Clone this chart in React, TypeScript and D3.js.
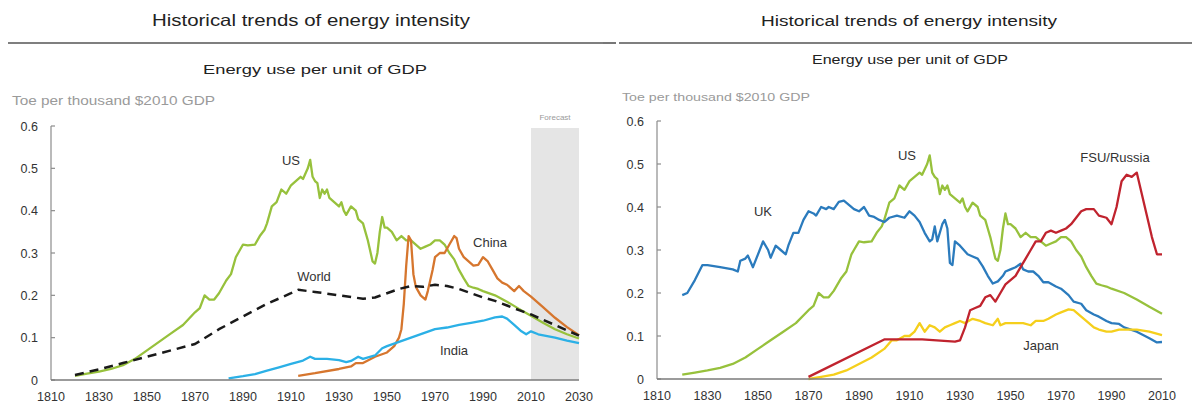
import React from "react";
import * as d3 from "d3";

type P = [number, number];

const yTicks = [0, 0.1, 0.2, 0.3, 0.4, 0.5, 0.6];
const xTicksLeft = [1810, 1830, 1850, 1870, 1890, 1910, 1930, 1950, 1970, 1990, 2010, 2030];
const xTicksRight = [1810, 1830, 1850, 1870, 1890, 1910, 1930, 1950, 1970, 1990, 2010];

const usData: P[] = [
  [1820, 0.01], [1825, 0.015], [1830, 0.02], [1835, 0.026], [1840, 0.035], [1845, 0.05], [1850, 0.07],
  [1855, 0.09], [1860, 0.11], [1865, 0.13], [1870, 0.16], [1872, 0.17], [1874, 0.2], [1876, 0.19],
  [1878, 0.19], [1880, 0.205], [1883, 0.235], [1885, 0.25], [1887, 0.29], [1888, 0.3], [1890, 0.32],
  [1892, 0.318], [1895, 0.32], [1897, 0.34], [1899, 0.355], [1900, 0.37], [1902, 0.41], [1904, 0.42],
  [1906, 0.45], [1908, 0.44], [1910, 0.46], [1912, 0.47], [1914, 0.48], [1915, 0.475], [1917, 0.5],
  [1918, 0.52], [1919, 0.48], [1920, 0.47], [1921, 0.465], [1922, 0.43], [1923, 0.45], [1924, 0.44],
  [1925, 0.45], [1926, 0.43], [1928, 0.42], [1930, 0.41], [1931, 0.42], [1932, 0.4], [1933, 0.39],
  [1935, 0.41], [1937, 0.4], [1938, 0.38], [1940, 0.37], [1941, 0.35], [1942, 0.33], [1944, 0.28],
  [1945, 0.275], [1946, 0.3], [1947, 0.35], [1948, 0.385], [1949, 0.36], [1950, 0.36], [1952, 0.35],
  [1954, 0.33], [1956, 0.34], [1958, 0.33], [1960, 0.33], [1962, 0.32], [1964, 0.31], [1966, 0.315],
  [1968, 0.32], [1970, 0.33], [1972, 0.33], [1974, 0.32], [1976, 0.3], [1978, 0.285], [1980, 0.26],
  [1982, 0.24], [1984, 0.222], [1986, 0.218], [1988, 0.215], [1990, 0.21], [1995, 0.2], [2000, 0.185],
  [2005, 0.168], [2010, 0.152], [2015, 0.135], [2020, 0.12], [2025, 0.108], [2030, 0.098],
];

const worldData: P[] = [
  [1820, 0.012], [1830, 0.025], [1840, 0.04], [1850, 0.055], [1860, 0.07], [1870, 0.085], [1880, 0.12],
  [1890, 0.15], [1900, 0.18], [1910, 0.205], [1913, 0.213], [1920, 0.208], [1930, 0.2], [1940, 0.192],
  [1945, 0.195], [1950, 0.205], [1955, 0.215], [1960, 0.222], [1965, 0.22], [1970, 0.225], [1975, 0.222],
  [1980, 0.215], [1985, 0.205], [1990, 0.195], [1995, 0.187], [2000, 0.176], [2005, 0.165], [2010, 0.155],
  [2015, 0.142], [2020, 0.13], [2025, 0.117], [2030, 0.105],
];

const chinaData: P[] = [
  [1913, 0.01], [1920, 0.016], [1930, 0.026], [1935, 0.032], [1937, 0.04], [1940, 0.04], [1945, 0.055],
  [1950, 0.065], [1953, 0.08], [1955, 0.1], [1956, 0.12], [1957, 0.18], [1958, 0.27], [1959, 0.34],
  [1960, 0.33], [1961, 0.25], [1962, 0.22], [1964, 0.2], [1966, 0.19], [1967, 0.21], [1969, 0.26],
  [1970, 0.29], [1972, 0.3], [1974, 0.3], [1976, 0.32], [1978, 0.34], [1979, 0.335], [1980, 0.31],
  [1982, 0.29], [1984, 0.28], [1986, 0.27], [1988, 0.272], [1990, 0.29], [1992, 0.28], [1994, 0.26],
  [1996, 0.24], [1998, 0.23], [2000, 0.225], [2003, 0.21], [2005, 0.222], [2007, 0.21], [2010, 0.197],
  [2015, 0.172], [2020, 0.147], [2025, 0.125], [2030, 0.106],
];

const indiaData: P[] = [
  [1884, 0.004], [1890, 0.009], [1895, 0.014], [1900, 0.022], [1905, 0.03], [1910, 0.038], [1915, 0.046],
  [1918, 0.055], [1920, 0.05], [1925, 0.05], [1930, 0.047], [1933, 0.042], [1935, 0.045], [1938, 0.055],
  [1940, 0.05], [1945, 0.058], [1948, 0.075], [1950, 0.08], [1955, 0.09], [1960, 0.1], [1965, 0.11],
  [1970, 0.12], [1975, 0.124], [1980, 0.13], [1985, 0.135], [1990, 0.14], [1995, 0.148], [1998, 0.15],
  [2000, 0.145], [2003, 0.13], [2006, 0.115], [2008, 0.108], [2010, 0.115], [2013, 0.108], [2020, 0.1],
  [2025, 0.093], [2030, 0.087],
];

const ukData: P[] = [
  [1820, 0.195], [1822, 0.2], [1825, 0.23], [1828, 0.265], [1830, 0.265], [1835, 0.26], [1840, 0.255],
  [1842, 0.25], [1843, 0.275], [1845, 0.28], [1846, 0.287], [1848, 0.26], [1850, 0.29], [1852, 0.32],
  [1854, 0.3], [1855, 0.282], [1857, 0.31], [1859, 0.3], [1861, 0.29], [1862, 0.31], [1864, 0.34],
  [1866, 0.34], [1868, 0.37], [1870, 0.39], [1872, 0.385], [1873, 0.38], [1875, 0.4], [1877, 0.395],
  [1878, 0.4], [1880, 0.395], [1882, 0.412], [1884, 0.415], [1886, 0.405], [1888, 0.395], [1890, 0.39],
  [1892, 0.4], [1894, 0.38], [1896, 0.377], [1898, 0.37], [1900, 0.365], [1902, 0.375], [1905, 0.38],
  [1908, 0.375], [1910, 0.39], [1912, 0.38], [1914, 0.365], [1916, 0.34], [1918, 0.32], [1919, 0.325],
  [1920, 0.355], [1921, 0.32], [1923, 0.36], [1924, 0.37], [1925, 0.35], [1926, 0.27], [1927, 0.265],
  [1928, 0.32], [1930, 0.31], [1933, 0.29], [1935, 0.285], [1937, 0.28], [1939, 0.262], [1941, 0.24],
  [1943, 0.222], [1945, 0.227], [1947, 0.24], [1948, 0.25], [1950, 0.255], [1952, 0.26], [1954, 0.268],
  [1955, 0.255], [1957, 0.25], [1959, 0.25], [1961, 0.24], [1963, 0.225], [1965, 0.225], [1968, 0.215],
  [1970, 0.21], [1973, 0.195], [1975, 0.18], [1978, 0.175], [1980, 0.16], [1983, 0.15], [1985, 0.145],
  [1988, 0.135], [1990, 0.13], [1993, 0.128], [1995, 0.12], [2000, 0.11], [2005, 0.095], [2008, 0.085],
  [2010, 0.086],
];

const fsuData: P[] = [
  [1870, 0.005], [1900, 0.092], [1915, 0.092], [1928, 0.087], [1930, 0.09], [1932, 0.12], [1934, 0.16],
  [1936, 0.165], [1938, 0.17], [1940, 0.19], [1942, 0.195], [1944, 0.18], [1946, 0.2], [1948, 0.22],
  [1950, 0.23], [1952, 0.24], [1954, 0.26], [1956, 0.28], [1958, 0.3], [1960, 0.32], [1962, 0.32],
  [1964, 0.34], [1966, 0.345], [1968, 0.34], [1970, 0.345], [1972, 0.35], [1974, 0.36], [1976, 0.375],
  [1978, 0.39], [1980, 0.395], [1983, 0.395], [1985, 0.38], [1988, 0.375], [1990, 0.36], [1992, 0.4],
  [1994, 0.46], [1996, 0.475], [1998, 0.47], [2000, 0.48], [2002, 0.43], [2004, 0.38], [2006, 0.33],
  [2008, 0.29], [2010, 0.29],
];

const japanData: P[] = [
  [1870, 0.0], [1875, 0.005], [1880, 0.01], [1885, 0.02], [1890, 0.035], [1895, 0.05], [1900, 0.07],
  [1903, 0.09], [1905, 0.09], [1908, 0.1], [1910, 0.1], [1912, 0.11], [1914, 0.13], [1916, 0.11],
  [1918, 0.125], [1920, 0.12], [1922, 0.11], [1924, 0.12], [1926, 0.125], [1928, 0.13], [1930, 0.135],
  [1932, 0.13], [1935, 0.14], [1938, 0.135], [1940, 0.13], [1943, 0.125], [1945, 0.14], [1946, 0.125],
  [1948, 0.13], [1950, 0.13], [1955, 0.13], [1958, 0.125], [1960, 0.135], [1963, 0.135], [1965, 0.14],
  [1968, 0.15], [1970, 0.155], [1973, 0.162], [1975, 0.16], [1978, 0.145], [1980, 0.135], [1983, 0.12],
  [1985, 0.115], [1988, 0.11], [1990, 0.11], [1993, 0.115], [1995, 0.115], [2000, 0.115], [2005, 0.11],
  [2010, 0.102],
];

const usRight: P[] = usData.filter((d) => d[0] <= 2010);

const FONT = "'Liberation Sans', Arial, Helvetica, sans-serif";
const C = {
  us: "#97c13c",
  world: "#1a1a1a",
  china: "#d6762e",
  india: "#2bb0e6",
  uk: "#2b7bbd",
  fsu: "#c0232e",
  japan: "#f5cf1c",
};

type Series = { data: P[]; color: string; dash?: string; width?: number };
type Label = { text: string; x: number; y: number };

type PanelProps = {
  x0: number; x1: number; yTop: number; yBot: number;
  domain: [number, number]; xTicks: number[];
  series: Series[]; labels: Label[];
  forecast?: [number, number];
};

function Panel(p: PanelProps) {
  const x = d3.scaleLinear().domain(p.domain).range([p.x0, p.x1]);
  const y = d3.scaleLinear().domain([0, 0.6]).range([p.yBot, p.yTop]);
  const line = d3.line<P>().x((d) => x(d[0])).y((d) => y(d[1]));
  return (
    <g>
      {p.forecast && (
        <g>
          <rect x={x(p.forecast[0])} y={y(0.6) + 2} width={x(p.forecast[1]) - x(p.forecast[0])}
            height={y(0) - y(0.6) - 2} fill="#e5e5e5" />
          <text x={(x(p.forecast[0]) + x(p.forecast[1])) / 2} y={y(0.6) - 6} fontSize={8}
            fill="#9a9a9a" textAnchor="middle" fontFamily={FONT}>Forecast</text>
        </g>
      )}
      <line x1={p.x0} x2={p.x0} y1={y(0.6)} y2={y(0)} stroke="#8c8c8c" strokeWidth={1.2} />
      {yTicks.map((t) => (
        <g key={t}>
          <line x1={p.x0} x2={p.x0 + 4} y1={y(t)} y2={y(t)} stroke="#8c8c8c" strokeWidth={1.2} />
          <text x={p.x0 - 13} y={y(t) + 4.5} fontSize={12.5} fill="#333" textAnchor="end" fontFamily={FONT}>
            {t === 0 ? "0" : t.toFixed(1)}
          </text>
        </g>
      ))}
      {p.series.map((s, i) => (
        <path key={i} d={line(s.data) || ""} fill="none" stroke={s.color} strokeWidth={s.width ?? 2.3}
          strokeDasharray={s.dash} strokeLinejoin="round" />
      ))}
      <line x1={p.x0} x2={p.x1} y1={y(0)} y2={y(0)} stroke="#7a7a7a" strokeWidth={1.5} />
      {p.xTicks.map((t) => (
        <text key={t} x={x(t)} y={y(0) + 21} fontSize={12.5} fill="#333" textAnchor="middle" fontFamily={FONT}>
          {t}
        </text>
      ))}
      {p.labels.map((l) => (
        <text key={l.text} x={l.x} y={l.y} fontSize={13} fill="#333" textAnchor="middle" fontFamily={FONT}>
          {l.text}
        </text>
      ))}
    </g>
  );
}

export default function App() {
  return (
    <svg width={1192} height={416} style={{ position: "absolute", left: 0, top: 0, background: "#fff" }}>
      <rect width={1192} height={416} fill="#fff" />
      <text x={311} y={26} fontSize={16.5} fill="#222" textAnchor="middle" fontFamily={FONT}
        textLength={318} lengthAdjust="spacingAndGlyphs">Historical trends of energy intensity</text>
      <line x1={8} x2={603} y1={43} y2={43} stroke="#555" strokeWidth={1.6} />
      <text x={315} y={74} fontSize={13.5} fill="#222" textAnchor="middle" fontFamily={FONT}
        textLength={224} lengthAdjust="spacingAndGlyphs">Energy use per unit of GDP</text>
      <text x={12} y={105} fontSize={12} fill="#9a9a9a" fontFamily={FONT}
        textLength={203} lengthAdjust="spacingAndGlyphs">Toe per thousand $2010 GDP</text>
      <text x={909} y={26} fontSize={15.5} fill="#222" textAnchor="middle" fontFamily={FONT}
        textLength={296} lengthAdjust="spacingAndGlyphs">Historical trends of energy intensity</text>
      <line x1={603} x2={616} y1={43} y2={43} stroke="#555" strokeWidth={1.6} />
      <line x1={619} x2={1192} y1={43} y2={43} stroke="#555" strokeWidth={1.6} />
      <text x={910} y={64} fontSize={12.5} fill="#222" textAnchor="middle" fontFamily={FONT}
        textLength={196} lengthAdjust="spacingAndGlyphs">Energy use per unit of GDP</text>
      <text x={622} y={101} fontSize={11.5} fill="#9a9a9a" fontFamily={FONT}
        textLength={188} lengthAdjust="spacingAndGlyphs">Toe per thousand $2010 GDP</text>

      <Panel x0={51} x1={579} yTop={126} yBot={380} domain={[1810, 2030]} xTicks={xTicksLeft}
        forecast={[2010, 2030]}
        series={[
          { data: usData, color: C.us },
          { data: chinaData, color: C.china },
          { data: indiaData, color: C.india },
          { data: worldData, color: C.world, dash: "9,6", width: 2.5 },
        ]}
        labels={[
          { text: "US", x: 291, y: 165 },
          { text: "World", x: 314, y: 281 },
          { text: "China", x: 490, y: 247 },
          { text: "India", x: 454, y: 355 },
        ]}
      />
      <Panel x0={657} x1={1162} yTop={121} yBot={379} domain={[1810, 2010]} xTicks={xTicksRight}
        series={[
          { data: usRight, color: C.us },
          { data: ukData, color: C.uk },
          { data: japanData, color: C.japan },
          { data: fsuData, color: C.fsu },
        ]}
        labels={[
          { text: "UK", x: 763, y: 216 },
          { text: "US", x: 907, y: 160 },
          { text: "FSU/Russia", x: 1115, y: 162 },
          { text: "Japan", x: 1041, y: 350 },
        ]}
      />
    </svg>
  );
}
